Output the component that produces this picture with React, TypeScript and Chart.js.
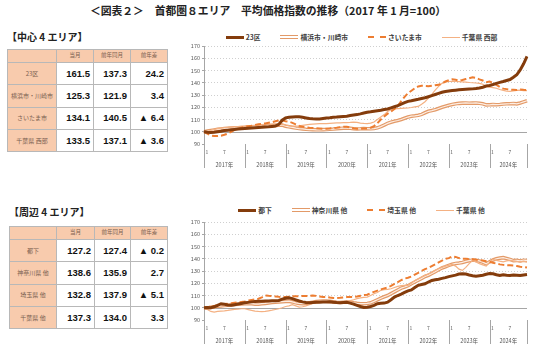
import React, { useEffect, useRef } from 'react';
import { Chart, registerables } from 'chart.js';

Chart.register(...registerables);

const JP = '"Noto Sans CJK JP", "Noto Sans", sans-serif';

// ---- axis / label data ----
const years = ['2017年', '2018年', '2019年', '2020年', '2021年', '2022年', '2023年', '2024年'];
const monthTickMonths = [1, 7];
const monthTickLabels = ['1', '7'];
const yMin = 90;
const yMax = 170;
const yStep = 10;
const baseLine = 100;

// ---- 中心4エリア ----
const centerNames = ['23区', '横浜市・川崎市', 'さいたま市', '千葉県 西部'];
const tokyo23 = [
  100, 99.6, 99.4, 99.6, 100, 100.4, 101, 101.3, 101.6, 101.9, 102.2, 102.5,
  102.7, 102.9, 103.1, 103.3, 103.5, 103.6, 103.8, 104.0, 104.3, 104.6, 106.0, 109.4,
  111.3, 111.9, 112.1, 112.2, 112.2, 111.8, 111.3, 110.8, 110.6, 110.5, 110.5, 110.9,
  111.3, 111.5, 111.8, 112.0, 112.3, 112.5, 112.7, 113.2, 113.6, 114.0, 114.6, 115.3,
  115.9, 116.3, 116.8, 117.2, 117.6, 118.1, 118.6, 119.5, 120.4, 121.3, 122.5, 123.7,
  124.8, 125.3, 125.9, 126.5, 127.2, 127.8, 128.6, 129.5, 130.4, 131.3, 132.2, 132.8,
  133.2, 133.6, 133.9, 134.2, 134.4, 134.6, 134.8, 135.0, 135.3, 135.7, 136.3, 137.3,
  137.8, 138.6, 139.5, 140.3, 141.0, 141.8, 142.6, 144.5, 146.5, 150.5, 155.5, 161.5,
];
const yokohamaKawasaki = [
  100, 100.5, 101, 101.5, 102, 102.3, 102.6, 102.8, 103, 103.2, 103.3, 103.5,
  103.6, 103.8, 104, 104.2, 104.3, 104.5, 104.6, 104.8, 105, 105.2, 105.3, 105.5,
  104.5, 104, 103.5, 103, 102.6, 102.3, 102, 101.8, 101.7, 101.6, 101.6, 101.7,
  101.8, 102, 102.2, 102.5, 102.7, 102.9, 103, 102.8, 102.5, 102.3, 102.4, 102.6,
  102.5, 102.4, 102.6, 103.2, 104.2, 105.5, 106.8, 107.8, 108.6, 109.2, 110, 111,
  112, 112.7, 113, 113.4, 114.2, 115.5, 116.7, 117.3, 118, 119, 120, 120.8,
  121.6, 122.3, 122.8, 123.2, 123.4, 123.5, 123.3, 123.4, 123.5, 123.2, 122.8, 121.9,
  122, 122.3, 122.1, 122.3, 122.6, 122.8, 122.9, 123.1, 122.8, 123.5, 124.4, 125.3,
];
const saitamaCity = [
  100, 98.5, 97, 96.5, 96.5, 96.8, 97.5, 98.5, 100, 101.5, 102.5, 103.3,
  104, 104.5, 105, 105.6, 106.2, 106.5, 106.8, 107.3, 107.8, 108.5, 109.2, 109.4,
  108.6, 108.2, 107.3, 106, 104.8, 104, 103.6, 103.2, 103, 102.8, 102.6, 102.4,
  102.4, 102.6, 103, 103.2, 103.6, 104, 104, 103.5, 102.8, 102.4, 102.5, 102.7,
  102.7, 103.3, 104.6, 107, 110, 112.5, 114.8, 116.5, 118.5, 121, 125, 128.5,
  131.5, 133.5, 135.5, 137, 137.5, 137.4, 137.2, 137.5, 138, 138.3, 139.5, 141,
  142, 142.8, 142.4, 141.8, 142.3, 143, 143.7, 144.5, 144, 142.8, 141.8, 140.5,
  141, 140, 138.3, 136.5, 135.2, 134.8, 134.3, 134.2, 134, 134.5, 134.2, 134.1,
];
const chibaWest = [
  100, 100.3, 101, 101.8, 102.5, 103, 103.3, 103.5, 103.8, 104, 104.2, 104.4,
  104.6, 104.8, 105, 105.2, 105.5, 105.8, 106, 106.2, 106.3, 106.2, 106, 106,
  105.5, 105, 104.6, 104.6, 104.8, 105.2, 105.6, 106, 106.2, 106.4, 106.6, 106.7,
  106.7, 106.9, 107.1, 107.3, 107.3, 107.4, 107.5, 107.6, 107.8, 107.6, 107, 106.8,
  106.7, 107, 108, 110, 112, 114, 116.5, 118, 118.6, 118.9, 119.1, 119.3,
  119.4, 119.8, 120.3, 120.7, 122.5, 124.5, 127.5, 130.5, 134, 137, 139.5, 140.5,
  141, 141.2, 141, 140.9, 140.7, 140.5, 140.2, 140, 139.8, 139.5, 138.8, 137.1,
  136.5, 136, 135.5, 134.5, 133.8, 133.2, 133, 133.3, 133.8, 134, 133.6, 133.5,
];

// ---- 周辺4エリア ----
const suburbNames = ['都下', '神奈川県 他', '埼玉県 他', '千葉県 他'];
const tokyoSuburb = [
  100, 100.2, 100, 100.8, 102, 103.3, 102.8, 102.3, 102, 102.5, 103, 103.5,
  104, 104.4, 104.8, 105.2, 105.3, 105.4, 105.5, 105.6, 105.7, 105.8, 106, 107,
  107.8, 108.2, 107.5, 106.5, 105.5, 104.8, 104.3, 104, 104.2, 104.4, 104.5, 104.6,
  104.6, 104.8, 104.5, 104.2, 104, 104.3, 104.5, 103.8, 103, 102, 101, 100.3,
  100.5, 101, 101.9, 103.3, 103.6, 103.8, 104.6, 106.5, 108.7, 110, 111.2, 112.5,
  113.8, 114.5, 116.5, 118.3, 119, 119.6, 121, 122.3, 122.9, 123.3, 124, 124.6,
  125.4, 126, 126.6, 127.5, 127.8, 127.5, 126.8, 126.2, 125.8, 126.2, 126.6, 127.4,
  128, 127.8, 127, 126.4, 127, 126.6, 126.4, 126.7, 126.5, 126.3, 126.8, 127.2,
];
const kanagawaEtc = [
  100, 99.8, 100.3, 100.8, 101.2, 101.5, 101.8, 102, 102.3, 102.6, 102.8, 103,
  103.2, 103.5, 103.3, 103, 103, 103.3, 103.6, 104, 104.3, 104.6, 104.8, 105,
  105.2, 105.4, 104.8, 104, 103.5, 103.3, 103.5, 104, 104.5, 105, 105.3, 105.4,
  105.4, 105.2, 104.8, 104.5, 104.3, 104.5, 104.7, 104.5, 104, 103.6, 103.3, 103.3,
  103.5, 104, 105.2, 106.5, 107.8, 109, 110, 111.5, 113, 114.5, 116, 116.9,
  118, 119.6, 121, 122.5, 124, 125.5, 126.5, 128, 129.5, 131, 132.5, 133.5,
  134.6, 135.5, 136.2, 136.5, 137, 137.8, 138.4, 139, 138.7, 138.2, 137.2, 135.9,
  137.5, 139, 140, 140.5, 140.9, 140.2, 139.5, 138.5, 138.7, 138.2, 138.8, 138.6,
];
const saitamaEtc = [
  100, 100.5, 101, 101.5, 102, 102.5, 103, 103.3, 103.6, 104, 104.4, 104.8,
  105.2, 105.8, 106.3, 106.8, 107.4, 108.5, 110, 109.7, 109.5, 109.2, 108.9, 108.7,
  108.7, 109, 109.3, 109.4, 109.5, 109.5, 109.6, 109.8, 110, 109.7, 109.2, 108.7,
  108.7, 108.3, 108, 107.9, 108.1, 108.4, 108.7, 108.8, 108.7, 109.2, 109.8, 110.3,
  110.6, 112, 113, 114, 115, 115.8, 116.6, 117.8, 119.5, 121, 122.5, 123.8,
  124.5, 125.5, 127, 128.5, 130, 131.5, 132.5, 134, 135.5, 137, 138.5, 140,
  140.5, 142, 141.5, 140.5, 140, 140, 139.8, 139.5, 139.2, 138.8, 138.5, 137.9,
  137.5, 136.8, 136, 135.4, 135, 134.8, 134.6, 134.4, 134, 133.5, 133.2, 132.8,
];
const chibaEtc = [
  100, 98.5, 97, 96.5, 97, 97.3, 97.5, 97.8, 98.2, 98.6, 98.8, 99.2,
  99.2, 98.5, 97.8, 97.3, 97, 96.8, 97, 97.5, 98, 98.6, 99.2, 100,
  101, 101.5, 102.5, 101.5, 100.5, 100.8, 101.5, 102.5, 103.5, 104.2, 104.6, 104.8,
  105.2, 105, 104.6, 104.5, 104.6, 104.8, 105.2, 105.8, 106.5, 107.4, 108, 108.5,
  108.7, 110, 111.4, 112.5, 114.2, 114.8, 115, 115.5, 116.5, 117.5, 118, 118.3,
  118.3, 120, 122.3, 123.5, 125, 126.4, 127.5, 128.8, 130.5, 131.8, 133, 134,
  134.6, 135.4, 134, 131.5, 130.5, 133, 136, 138.7, 137.3, 136, 135, 134,
  137, 139.5, 138.7, 138, 137.5, 138.2, 138.7, 138.3, 137.8, 137.5, 138, 137.3,
];

// ---- table data ----
const tableHeaders = ['当月', '前年同月', '前年差'];
const centerCurrent = [161.5, 125.3, 134.1, 133.5];
const centerPrev = [137.3, 121.9, 140.5, 137.1];
const centerDiff = ['24.2', '3.4', '▲ 6.4', '▲ 3.6'];
const suburbCurrent = [127.2, 138.6, 132.8, 137.3];
const suburbPrev = [127.4, 135.9, 137.9, 134.0];
const suburbDiff = ['▲ 0.2', '2.7', '▲ 5.1', '3.3'];

// ---- styles ----
type LineStyle = { color: string; width: number; dash?: number[]; inner?: string; innerWidth?: number; css: string; order: number };
const lineStyles: LineStyle[] = [
  { color: '#843c0c', width: 3, css: '3px solid #843c0c', order: 0 },
  { color: '#e39a68', width: 3.6, inner: '#fdeee4', innerWidth: 1.2, css: '4px double #e39a68', order: 4 },
  { color: '#ed7d31', width: 2, dash: [6, 3], css: '2px dashed #ed7d31', order: 1 },
  { color: '#f4b183', width: 1.2, css: '1.5px solid #f4b183', order: 2 },
];

const categoryLabels = years.flatMap((y) => Array.from({ length: 12 }, (_, m) => `${y}${m + 1}月`));

const yearAxisPlugin = {
  id: 'yearAxis',
  beforeDatasetsDraw(chart: any) {
    const { ctx, chartArea: a, scales } = chart;
    const py = Math.round(scales.y.getPixelForValue(baseLine)) + 0.5;
    ctx.save();
    ctx.strokeStyle = '#a6a6a6';
    ctx.lineWidth = 1;
    ctx.beginPath();
    ctx.moveTo(a.left, py);
    ctx.lineTo(a.right, py);
    ctx.stroke();
    ctx.restore();
  },
  afterDraw(chart: any) {
    const { ctx, chartArea: a, scales } = chart;
    const x = scales.x;
    const n = chart.data.labels.length;
    const bounds = years.map((_, k) => k * 12).concat([n - 1]);
    ctx.save();
    ctx.strokeStyle = '#a6a6a6';
    ctx.lineWidth = 1;
    bounds.forEach((i) => {
      const px = Math.round(x.getPixelForValue(i)) + 0.5;
      ctx.beginPath();
      ctx.moveTo(px, a.bottom);
      ctx.lineTo(px, x.bottom);
      ctx.stroke();
    });
    ctx.fillStyle = '#595959';
    ctx.textBaseline = 'middle';
    years.forEach((yr, k) => {
      ctx.font = `5px ${JP}`;
      monthTickMonths.forEach((m, j) => {
        const idx = k * 12 + m - 1;
        if (idx > n - 1) return;
        const px = x.getPixelForValue(idx);
        ctx.textAlign = j === 0 ? 'left' : 'center';
        ctx.fillText(monthTickLabels[j], j === 0 ? px + 1.5 : px, a.bottom + 8);
      });
      const x0 = x.getPixelForValue(bounds[k]);
      const x1 = x.getPixelForValue(bounds[k + 1]);
      ctx.textAlign = 'center';
      ctx.font = `5.5px ${JP}`;
      ctx.fillText(yr, (x0 + x1) / 2, a.bottom + 21);
    });
    ctx.restore();
  },
};

function LineChart({ series, names, top }: { series: number[][]; names: string[]; top: number }) {
  const ref = useRef<HTMLCanvasElement>(null);
  useEffect(() => {
    const datasets: any[] = [];
    series.forEach((data, i) => {
      const s = lineStyles[i];
      datasets.push({
        label: names[i],
        data,
        borderColor: s.color,
        borderWidth: s.width,
        borderDash: s.dash || [],
        pointRadius: 0,
        tension: 0,
        fill: false,
        order: s.order,
      });
      if (s.inner) {
        datasets.push({
          label: names[i] + ' ',
          data,
          borderColor: s.inner,
          borderWidth: s.innerWidth,
          pointRadius: 0,
          tension: 0,
          fill: false,
          order: s.order - 1,
        });
      }
    });
    const chart = new Chart(ref.current as HTMLCanvasElement, {
      type: 'line',
      data: { labels: categoryLabels, datasets },
      options: {
        responsive: false,
        animation: false,
        devicePixelRatio: 1,
        layout: { padding: { top: 16, right: 9, bottom: 4, left: 0 } },
        plugins: { legend: { display: false }, tooltip: { enabled: false } },
        scales: {
          x: {
            type: 'category',
            offset: false,
            ticks: { display: false },
            grid: { display: false },
            border: { display: false },
            afterFit: (s: any) => {
              s.height = 24;
            },
          },
          y: {
            min: yMin,
            max: yMax,
            afterFit: (s: any) => {
              s.width = 24;
            },
            ticks: { stepSize: yStep, font: { size: 5.5, family: JP }, color: '#595959', padding: 2 },
            grid: {
              color: (c: any) => (c.tick && c.tick.value <= baseLine ? 'rgba(0,0,0,0)' : '#cfcfcf'),
              lineWidth: 1,
              drawTicks: true,
              tickLength: 2,
              tickColor: '#a6a6a6',
            },
            border: { display: true, color: '#a6a6a6', width: 1, dash: [1, 2] },
          },
        },
      } as any,
      plugins: [yearAxisPlugin],
    });
    return () => chart.destroy();
  }, []);
  return (
    <canvas
      ref={ref}
      width={356}
      height={142}
      style={{ position: 'absolute', left: 180, top, width: 356, height: 142 }}
    />
  );
}

function Legend({ names, top }: { names: string[]; top: number }) {
  return (
    <div
      style={{
        position: 'absolute',
        left: 200,
        width: 323,
        top,
        display: 'flex',
        justifyContent: 'center',
        alignItems: 'center',
        gap: 20,
        fontFamily: JP,
        fontSize: 6.8,
        fontWeight: 700,
        color: '#404040',
        whiteSpace: 'nowrap',
        lineHeight: '10px',
      }}
    >
      {names.map((n, i) => (
        <div key={n} style={{ display: 'flex', alignItems: 'center' }}>
          <span style={{ display: 'inline-block', width: 18, marginRight: 2, borderTop: lineStyles[i].css, height: 0 }} />
          <span>{n}</span>
        </div>
      ))}
    </div>
  );
}

function DataTable(props: {
  left: number;
  top: number;
  names: string[];
  current: number[];
  prev: number[];
  diff: string[];
  cols: number[];
}) {
  const { left, top, names, current, prev, diff, cols } = props;
  const border = '1px solid #b8b8b8';
  const hdr: React.CSSProperties = {
    background: '#f8cbad',
    border,
    padding: 0,
    textAlign: 'center',
    fontSize: 5.5,
    color: '#7a6050',
    fontFamily: JP,
    lineHeight: 1,
  };
  const lab: React.CSSProperties = { ...hdr, fontSize: 6 };
  const val: React.CSSProperties = {
    border,
    padding: '0 3px 0 0',
    textAlign: 'right',
    fontSize: 9.5,
    fontWeight: 700,
    color: '#111',
    fontFamily: '"Liberation Sans", Arial, sans-serif',
    background: '#fff',
    lineHeight: 1,
  };
  return (
    <table
      style={{
        position: 'absolute',
        left,
        top,
        borderCollapse: 'collapse',
        tableLayout: 'fixed',
        width: cols.reduce((s, w) => s + w, 0),
        border: '1px solid #8c8c8c',
      }}
    >
      <colgroup>
        {cols.map((w, i) => (
          <col key={i} style={{ width: w }} />
        ))}
      </colgroup>
      <tbody>
        <tr style={{ height: 13 }}>
          <td style={hdr}></td>
          {tableHeaders.map((h) => (
            <td key={h} style={hdr}>
              {h}
            </td>
          ))}
        </tr>
        {names.map((n, i) => (
          <tr key={n} style={{ height: 22.3 }}>
            <td style={lab}>{n}</td>
            <td style={val}>{current[i].toFixed(1)}</td>
            <td style={val}>{prev[i].toFixed(1)}</td>
            <td style={val}>{diff[i]}</td>
          </tr>
        ))}
      </tbody>
    </table>
  );
}

const headingStyle: React.CSSProperties = {
  position: 'absolute',
  fontFamily: JP,
  fontSize: 10,
  fontWeight: 700,
  color: '#222',
  whiteSpace: 'nowrap',
  lineHeight: '12px',
};

export default function App() {
  return (
    <div
      style={{
        position: 'fixed',
        left: 0,
        top: 0,
        width: 536,
        height: 352,
        background: '#fff',
        overflow: 'hidden',
      }}
    >
      <div
        style={{
          position: 'absolute',
          left: 0,
          top: 3,
          width: 536,
          textAlign: 'center',
          fontFamily: JP,
          fontSize: 10.8,
          fontWeight: 700,
          color: '#222',
          whiteSpace: 'nowrap',
          lineHeight: '14px',
        }}
      >
        ＜図表２＞　首都圏８エリア　平均価格指数の推移（2017 年 1 月=100）
      </div>

      <div style={{ ...headingStyle, left: 7, top: 31 }}>【中心 4 エリア】</div>
      <DataTable
        left={7}
        top={49}
        names={centerNames}
        current={centerCurrent}
        prev={centerPrev}
        diff={centerDiff}
        cols={[49, 37, 37, 37]}
      />
      <Legend names={centerNames} top={32} />
      <LineChart series={[tokyo23, yokohamaKawasaki, saitamaCity, chibaWest]} names={centerNames} top={30} />

      <div style={{ ...headingStyle, left: 9, top: 206 }}>【周辺 4 エリア】</div>
      <DataTable
        left={9}
        top={226}
        names={suburbNames}
        current={suburbCurrent}
        prev={suburbPrev}
        diff={suburbDiff}
        cols={[47, 38, 36, 37]}
      />
      <Legend names={suburbNames} top={205} />
      <LineChart series={[tokyoSuburb, kanagawaEtc, saitamaEtc, chibaEtc]} names={suburbNames} top={206} />
    </div>
  );
}
